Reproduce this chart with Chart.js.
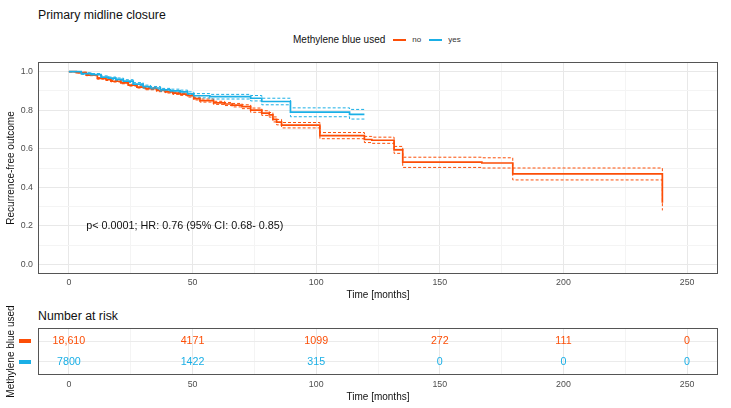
<!DOCTYPE html>
<html>
<head>
<meta charset="utf-8">
<script src="https://cdn.jsdelivr.net/npm/chart.js@4.4.0/dist/chart.umd.min.js"></script>
<style>
  body { margin: 0; background: #fff; font-family: "Liberation Sans", Arial, sans-serif; }
  #wrap { position: relative; width: 731px; height: 408px; overflow: hidden; }
  canvas { position: absolute; left: 0; }
  #kmChart { top: 0; }
  #riskChart { top: 300px; }
  .label { position: absolute; color: #111; white-space: nowrap; line-height: 1; }
  #title { left: 38px; top: 9px; font-size: 12.3px; }
  #riskTitle { left: 38px; top: 310px; font-size: 12.3px; }
  #legend { left: 293px; top: 35px; font-size: 10px; display: flex; align-items: center; }
  .key { display: inline-block; width: 13px; height: 2px; margin: 0 6px 0 8px; }
  .small { font-size: 8px; color: #333; }
</style>
</head>
<body>
<div id="wrap">
  <div id="title" class="label">Primary midline closure</div>
  <div id="legend" class="label">
    <span>Methylene blue used</span>
    <span class="key" style="background:#FC4E07"></span><span class="small">no</span>
    <span class="key" style="background:#1AAFE6"></span><span class="small">yes</span>
  </div>
  <canvas id="kmChart" width="731" height="305"></canvas>
  <div id="riskTitle" class="label">Number at risk</div>
  <canvas id="riskChart" width="731" height="108"></canvas>
</div>
<script>
// Kaplan-Meier steps: "no" = methylene blue not used
const timeNo  = [0, 3, 7, 11.5, 15, 17, 21, 24, 27.5, 31, 35.5, 39, 42, 45, 48, 50.5, 53, 58.5, 63, 66, 70, 73.5, 78, 81, 82.5, 84, 86, 101.5, 119.5, 122.5, 131.5, 135, 167, 179.5, 240];
const survNo  = [1, .995, .982, .965, .958, .95, .942, .93, .92, .912, .902, .895, .888, .883, .875, .86, .85, .838, .832, .826, .818, .8, .785, .776, .752, .738, .722, .668, .648, .644, .594, .53, .526, .47, .32];
const upperNo = [1, .997, .985, .969, .962, .954, .947, .935, .925, .918, .908, .901, .894, .889, .882, .867, .858, .846, .84, .835, .828, .811, .797, .788, .765, .752, .736, .684, .664, .66, .612, .556, .553, .5, .37];
const lowerNo = [1, .993, .979, .961, .954, .946, .937, .925, .915, .906, .896, .889, .882, .877, .868, .853, .842, .83, .824, .817, .808, .789, .773, .764, .739, .724, .708, .652, .632, .628, .576, .503, .5, .438, .28];

// "yes" = methylene blue used
const timeYes  = [0, 5, 9, 13, 16, 19, 22, 26, 30, 33, 37, 41, 45, 48, 50.5, 57, 73.5, 78, 89.6, 113.5, 119.5];
const survYes  = [1, .99, .985, .972, .966, .96, .951, .935, .922, .915, .905, .9, .895, .885, .875, .87, .862, .845, .79, .778, .778];
const upperYes = [1, .994, .99, .978, .972, .967, .958, .943, .93, .923, .913, .909, .904, .895, .886, .882, .876, .862, .812, .804, .804];
const lowerYes = [1, .986, .98, .966, .96, .953, .944, .927, .914, .907, .897, .891, .886, .875, .864, .858, .848, .828, .766, .754, .754];

// Number at risk table
const riskTimes = [0, 50, 100, 150, 200, 250];
const riskNo    = ['18,610', '4171', '1099', '272', '111', '0'];
const riskYes   = ['7800', '1422', '315', '0', '0', '0'];

// grid / tick positions
const xGrid = [0, 25, 50, 75, 100, 125, 150, 175, 200, 225, 250];
const yGrid = [0, 0.1, 0.2, 0.3, 0.4, 0.5, 0.6, 0.7, 0.8, 0.9, 1.0];

const statsText = 'p< 0.0001; HR: 0.76 (95% CI: 0.68- 0.85)';
const statsAt = [7, 0.2];

const FONT = '"Liberation Sans", Arial, sans-serif';
const RED = '#FC4E07';
const BLUE = '#1AAFE6';
const TICK_COLOR = '#4d4d4d';

Chart.defaults.font.family = FONT;

const toPoints = (times, values) => times.map((t, i) => ({ x: t, y: values[i] }));

function stepLine(label, times, values, color, dashed) {
    return {
        label: label,
        data: toPoints(times, values),
        borderColor: color,
        borderWidth: dashed ? 1 : 1.7,
        borderDash: dashed ? [3, 2] : [],
        stepped: 'before',
        pointRadius: 0,
        fill: false
    };
}

// major lines every 50 months, minor in between
const xGridColor = ctx => (ctx.tick && ctx.tick.value % 50 === 0) ? '#e8e8e8' : '#f4f4f4';
const yGridColor = ctx => (ctx.tick && Math.round(ctx.tick.value * 10) % 2 === 0) ? '#e8e8e8' : '#f4f4f4';

function timeAxis(height, pad, titlePad) {
    return {
        type: 'linear',
        min: -12.5,
        max: 262.5,
        afterBuildTicks: s => { s.ticks = xGrid.map(v => ({ value: v })); },
        afterFit: s => { s.height = height; },
        grid: { color: xGridColor, drawTicks: false },
        border: { display: false },
        ticks: {
            padding: pad, color: TICK_COLOR, font: { size: 8.8 },
            maxRotation: 0, autoSkip: false,
            callback: v => v % 50 === 0 ? String(v) : ''
        },
        title: { display: true, text: 'Time [months]', color: '#111', font: { size: 10 }, padding: { top: 0, bottom: titlePad } }
    };
}

// grey box round the plotting panel (ggplot theme_bw look)
const panelBorder = {
    id: 'panelBorder',
    afterDraw(chart) {
        const { ctx, chartArea: a } = chart;
        const l = Math.round(a.left) + 0.5, t = Math.round(a.top) + 0.5;
        const r = Math.round(a.right) - 0.5, b = Math.round(a.bottom) - 0.5;
        ctx.save();
        ctx.strokeStyle = '#555';
        ctx.lineWidth = 1;
        ctx.strokeRect(l, t, r - l, b - t);
        ctx.restore();
    }
};

const statsNote = {
    id: 'statsNote',
    afterDatasetsDraw(chart) {
        const { ctx, scales } = chart;
        ctx.save();
        ctx.font = '10.8px ' + FONT;
        ctx.fillStyle = '#111';
        ctx.textBaseline = 'middle';
        ctx.fillText(statsText, scales.x.getPixelForValue(statsAt[0]), scales.y.getPixelForValue(statsAt[1]));
        ctx.restore();
    }
};

new Chart(document.getElementById('kmChart'), {
    type: 'line',
    data: {
        datasets: [
            stepLine('yes', timeYes, survYes, BLUE, false),
            stepLine('no', timeNo, survNo, RED, false),
            stepLine('yes upper', timeYes, upperYes, BLUE, true),
            stepLine('yes lower', timeYes, lowerYes, BLUE, true),
            stepLine('no upper', timeNo, upperNo, RED, true),
            stepLine('no lower', timeNo, lowerNo, RED, true)
        ]
    },
    options: {
        responsive: false,
        animation: false,
        devicePixelRatio: 1,
        layout: { padding: { top: 62, right: 13, left: 0, bottom: 0 } },
        plugins: { legend: { display: false }, tooltip: { enabled: false } },
        scales: {
            x: timeAxis(31, 3, 4),
            y: {
                type: 'linear',
                min: -0.05,
                max: 1.05,
                afterBuildTicks: s => { s.ticks = yGrid.map(v => ({ value: v })); },
                afterFit: s => { s.width = 38; },
                grid: { color: yGridColor, drawTicks: false },
                border: { display: false },
                ticks: {
                    padding: 5, color: TICK_COLOR, font: { size: 8.8 }, autoSkip: false,
                    callback: v => Math.round(v * 10) % 2 === 0 ? v.toFixed(1) : ''
                },
                title: { display: true, text: 'Recurrence-free outcome', color: '#111', font: { size: 10 }, padding: { top: 5, bottom: 0 } }
            }
        }
    },
    plugins: [panelBorder, statsNote]
});

// risk table: counts written at each point's own pixel position
const riskNumbers = {
    id: 'riskNumbers',
    afterDatasetsDraw(chart) {
        const { ctx } = chart;
        ctx.save();
        ctx.font = '10.7px ' + FONT;
        ctx.textAlign = 'center';
        ctx.textBaseline = 'middle';
        chart.data.datasets.forEach((ds, i) => {
            ctx.fillStyle = ds.borderColor;
            chart.getDatasetMeta(i).data.forEach((pt, j) => {
                ctx.fillText(ds.numbers[j], pt.x, pt.y);
            });
        });
        ctx.restore();
    }
};

// coloured strips standing in for the strata names
const riskKeys = {
    id: 'riskKeys',
    afterDraw(chart) {
        const { ctx, chartArea: a, scales } = chart;
        ctx.save();
        chart.data.datasets.forEach(ds => {
            const y = scales.y.getPixelForValue(ds.data[0].y);
            ctx.fillStyle = ds.borderColor;
            ctx.fillRect(a.left - 19, Math.round(y) - 2, 12, 4);
        });
        ctx.restore();
    }
};

new Chart(document.getElementById('riskChart'), {
    type: 'scatter',
    data: {
        datasets: [
            { label: 'no', data: riskTimes.map(t => ({ x: t, y: 1 })), numbers: riskNo, borderColor: RED, backgroundColor: RED, pointRadius: 0 },
            { label: 'yes', data: riskTimes.map(t => ({ x: t, y: 2 })), numbers: riskYes, borderColor: BLUE, backgroundColor: BLUE, pointRadius: 0 }
        ]
    },
    options: {
        responsive: false,
        animation: false,
        devicePixelRatio: 1,
        layout: { padding: { top: 28, right: 13, left: 0, bottom: 0 } },
        plugins: { legend: { display: false }, tooltip: { enabled: false } },
        scales: {
            x: timeAxis(33, 4, 5),
            y: {
                type: 'linear',
                reverse: true,
                min: 0.35,
                max: 2.65,
                afterBuildTicks: s => { s.ticks = [{ value: 1 }, { value: 2 }]; },
                afterFit: s => { s.width = 38; },
                grid: { color: '#ebebeb', drawTicks: false },
                border: { display: false },
                ticks: { display: false },
                title: { display: true, text: 'Methylene blue used', color: '#111', font: { size: 10 }, padding: { top: 5, bottom: 0 } }
            }
        }
    },
    plugins: [panelBorder, riskNumbers, riskKeys]
});
</script>
</body>
</html>
